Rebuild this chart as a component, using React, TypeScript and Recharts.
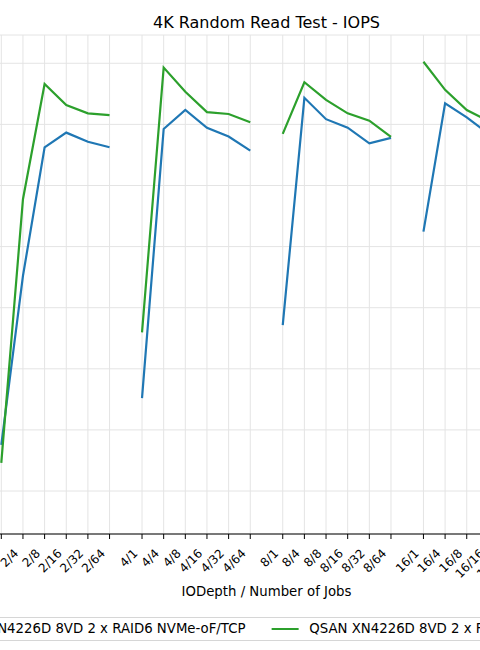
import React from 'react';
import { LineChart, Line, XAxis, YAxis, CartesianGrid } from 'recharts';

// ---------- data ----------
const ioDepths = ['2', '4', '8', '16'];
const jobCounts = ['1', '4', '8', '16', '32', '64'];

const categories = [
  '2/1', '2/4', '2/8', '2/16', '2/32', '2/64',
  '4/1', '4/4', '4/8', '4/16', '4/32', '4/64',
  '8/1', '8/4', '8/8', '8/16', '8/32', '8/64',
  '16/1', '16/4', '16/8', '16/16', '16/32', '16/64',
];

const tcpIops = [
  351000, 904000, 1325000, 1373000, 1343000, 1325000,
  504000, 1385000, 1447000, 1389000, 1360000, 1314000,
  743000, 1487000, 1417000, 1389000, 1338000, 1356000,
  1049000, 1469000, 1423000, 1369000, 1335000, 1310000,
];

const rdmaIops = [
  292000, 1155000, 1532000, 1463000, 1436000, 1430000,
  719000, 1586000, 1507000, 1440000, 1434000, 1407000,
  1369000, 1538000, 1480000, 1436000, 1412000, 1359000,
  1605000, 1513000, 1447000, 1411000, 1395000, 1380000,
];

const yTicks = [200000, 400000, 600000, 800000, 1000000, 1200000, 1400000, 1600000];

const seriesNames = [
  'QSAN XN4226D 8VD 2 x RAID6 NVMe-oF/TCP',
  'QSAN XN4226D 8VD 2 x RAID6 NVMe-oF/RDMA',
];
const chartTitle = '4K Random Read Test - IOPS';
const xAxisTitle = 'IODepth / Number of Jobs';

// ---------- layout helpers ----------
const GROUP_STRIDE = 6.5;
const X_DOMAIN: [number, number] = [-8.375, 32.875];
const Y_DOMAIN: [number, number] = [59300, 1692500];
const COLORS = ['#1f77b4', '#2ca02c'];
const FONT = '"DejaVu Sans", sans-serif';

const depthOf = (c: string) => c.split('/')[0];
const posOf = (c: string) => {
  const [d, j] = c.split('/');
  return ioDepths.indexOf(d) * GROUP_STRIDE + jobCounts.indexOf(j);
};

const rows: any[] = [];
categories.forEach((cat, i) => {
  const pos = posOf(cat);
  if (i > 0 && depthOf(cat) !== depthOf(categories[i - 1])) {
    rows.push({ pos: pos - 0.75, tcp: null, rdma: null });
  }
  rows.push({ pos, label: cat, tcp: tcpIops[i], rdma: rdmaIops[i] });
});

const tickPositions = categories.map(posOf);
const labelByPos = new Map<number, string>(categories.map((c) => [posOf(c), c]));

const RotatedTick = (props: any) => {
  const { x, y, payload } = props;
  const ax = x - 3.7;
  const ay = y + 13.2;
  return (
    <text
      x={ax}
      y={ay}
      transform={`rotate(-45 ${ax} ${ay})`}
      textAnchor="end"
      fontSize={12}
      fontFamily={FONT}
      fill="#000"
    >
      {labelByPos.get(payload.value)}
    </text>
  );
};

const Y_AXIS_W = 70;
const PLOT_LEFT = -180;
const PLOT_W = 893;
const CENTER_X = PLOT_LEFT + PLOT_W / 2;

export default function App() {
  return (
    <div
      style={{
        position: 'fixed',
        left: 0,
        top: 0,
        width: 480,
        height: 650,
        overflow: 'hidden',
        background: '#fff',
        fontFamily: FONT,
      }}
    >
      <div style={{ position: 'absolute', left: PLOT_LEFT - Y_AXIS_W, top: 0 }}>
        <LineChart
          width={PLOT_W + Y_AXIS_W}
          height={650}
          data={rows}
          margin={{ top: 35, right: 0, bottom: 56, left: 0 }}
        >
          <CartesianGrid stroke="#e4e4e4" strokeWidth={1} />
          <XAxis
            dataKey="pos"
            type="number"
            domain={X_DOMAIN}
            allowDataOverflow
            ticks={tickPositions}
            interval={0}
            height={60}
            tickSize={5}
            tickMargin={2}
            tick={<RotatedTick />}
            axisLine={{ stroke: '#000', strokeWidth: 1 }}
            tickLine={{ stroke: '#000', strokeWidth: 1 }}
          />
          <XAxis
            xAxisId="top"
            orientation="top"
            type="number"
            domain={X_DOMAIN}
            allowDataOverflow
            height={0}
            tick={false}
            tickLine={false}
            axisLine={{ stroke: '#000', strokeWidth: 1 }}
          />
          <YAxis
            type="number"
            domain={Y_DOMAIN}
            allowDataOverflow
            ticks={yTicks}
            interval={0}
            width={Y_AXIS_W}
            tick={{ fontSize: 12, fontFamily: FONT, fill: '#000' }}
            axisLine={{ stroke: '#000' }}
            tickLine={{ stroke: '#000' }}
          />
          <Line
            type="linear"
            dataKey="tcp"
            name={seriesNames[0]}
            stroke={COLORS[0]}
            strokeWidth={2.2}
            dot={false}
            activeDot={false}
            connectNulls={false}
            isAnimationActive={false}
          />
          <Line
            type="linear"
            dataKey="rdma"
            name={seriesNames[1]}
            stroke={COLORS[1]}
            strokeWidth={2.2}
            dot={false}
            activeDot={false}
            connectNulls={false}
            isAnimationActive={false}
          />
        </LineChart>
      </div>

      <div
        style={{
          position: 'absolute',
          left: CENTER_X,
          top: 14.8,
          transform: 'translateX(-50%)',
          whiteSpace: 'nowrap',
          fontSize: 16,
          lineHeight: 1,
          color: '#000',
        }}
      >
        {chartTitle}
      </div>

      <div
        style={{
          position: 'absolute',
          left: CENTER_X,
          top: 585,
          transform: 'translateX(-50%)',
          whiteSpace: 'nowrap',
          fontSize: 13.3,
          lineHeight: 1,
          color: '#000',
        }}
      >
        {xAxisTitle}
      </div>

      <div
        style={{
          position: 'absolute',
          left: CENTER_X,
          top: 617,
          height: 22,
          transform: 'translateX(-50%)',
          whiteSpace: 'nowrap',
          display: 'flex',
          alignItems: 'center',
          padding: '0 5.3px',
          border: '1px solid #d6d6d6',
          borderRadius: 3,
          fontSize: 13.3,
          lineHeight: 1,
          color: '#000',
          background: '#fff',
        }}
      >
        {seriesNames.map((name, i) => (
          <div
            key={name}
            style={{ display: 'flex', alignItems: 'center', marginLeft: i === 0 ? 0 : 26.6 }}
          >
            <div style={{ width: 26.6, height: 2, background: COLORS[i], marginRight: 10.6 }} />
            <span>{name}</span>
          </div>
        ))}
      </div>
    </div>
  );
}
